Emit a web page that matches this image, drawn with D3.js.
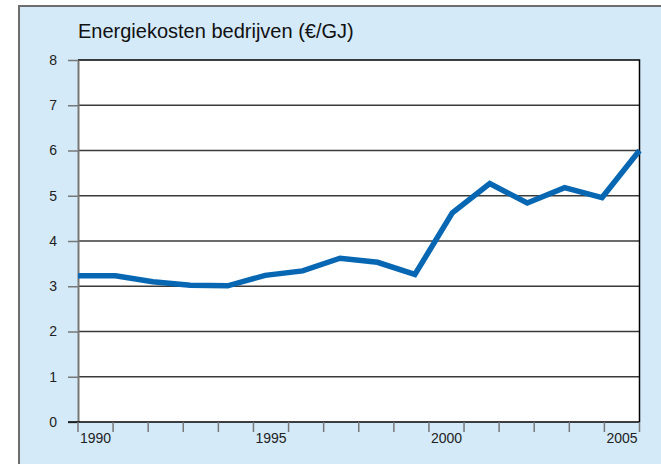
<!DOCTYPE html>
<html>
<head>
<meta charset="utf-8">
<script src="https://cdn.jsdelivr.net/npm/d3@7"></script>
<style>
  body { margin: 0; background: #fff; }
  svg { display: block; font-family: "Liberation Sans", Arial, sans-serif; }
</style>
</head>
<body>
<svg id="chart" width="661" height="464"></svg>
<script>
const title = 'Energiekosten bedrijven (€/GJ)';
const years = d3.range(1990, 2006);
const costs = [3.23, 3.23, 3.1, 3.02, 3.01, 3.24, 3.34, 3.62, 3.53, 3.26, 4.62, 5.27, 4.84, 5.18, 4.96, 6.0];
const yTicks = [0, 1, 2, 3, 4, 5, 6, 7, 8];
const xLabels = [1990, 1995, 2000, 2005];

const svg = d3.select('#chart');
const plotL = 78, plotR = 639.5, plotT = 60, plotB = 422;

// light blue panel
svg.append('rect')
  .attr('x', 19).attr('y', 6)
  .attr('width', 661).attr('height', 470)
  .attr('fill', '#d4eaf9')
  .attr('stroke', '#6d6d6d')
  .attr('stroke-width', 2);

svg.append('text')
  .attr('x', 78).attr('y', 38)
  .attr('font-size', 20)
  .attr('fill', '#111')
  .text(title);

const y = d3.scaleLinear().domain([0, 8]).range([plotB, plotT]);
const xLine = d3.scalePoint().domain(years).range([plotL, plotR]);
const xBand = d3.scaleBand().domain(years).range([plotL, plotR]);

svg.append('rect')
  .attr('x', plotL).attr('y', plotT)
  .attr('width', plotR - plotL).attr('height', plotB - plotT)
  .attr('fill', '#fff');

// gridlines
svg.append('g')
  .selectAll('line')
  .data(yTicks.filter(d => d > 0 && d < 8))
  .join('line')
  .attr('x1', plotL).attr('x2', plotR)
  .attr('y1', d => y(d)).attr('y2', d => y(d))
  .attr('stroke', '#3a3a3a')
  .attr('stroke-width', 1.5);

// top + right border
svg.append('path')
  .attr('d', `M${plotL},${y(8)}H${plotR}V${plotB}`)
  .attr('fill', 'none')
  .attr('stroke', '#000')
  .attr('stroke-width', 1.5);

// y axis
const yAxis = svg.append('g')
  .attr('transform', `translate(${plotL},0)`)
  .call(d3.axisLeft(y).tickValues(yTicks).tickSize(10).tickPadding(11).tickSizeOuter(0));
yAxis.select('.domain').attr('stroke', '#777').attr('stroke-width', 2);
yAxis.selectAll('.tick line').attr('stroke', '#777').attr('stroke-width', 1.5);
yAxis.selectAll('.tick text').attr('font-size', 14).attr('fill', '#222')
  .attr('font-family', '"Liberation Sans", Arial, sans-serif');

// x axis: ticks at band edges, labels centred in bands
const xg = svg.append('g');
xg.append('line')
  .attr('x1', plotL - 10).attr('x2', plotR)
  .attr('y1', plotB).attr('y2', plotB)
  .attr('stroke', '#000').attr('stroke-width', 1.5);
xg.selectAll('.xt')
  .data(years.concat([2006]))
  .join('line')
  .attr('class', 'xt')
  .attr('x1', d => d === 2006 ? plotR : xBand(d))
  .attr('x2', d => d === 2006 ? plotR : xBand(d))
  .attr('y1', plotB).attr('y2', plotB + 10)
  .attr('stroke', '#777').attr('stroke-width', 1.5);
xg.selectAll('text')
  .data(xLabels)
  .join('text')
  .attr('x', d => xBand(d) + xBand.bandwidth() / 2)
  .attr('y', 443)
  .attr('text-anchor', 'middle')
  .attr('font-size', 14)
  .attr('fill', '#222')
  .text(d => d);

// data line
const line = d3.line()
  .x((d, i) => xLine(years[i]))
  .y(d => y(d));
svg.append('path')
  .datum(costs)
  .attr('d', line)
  .attr('fill', 'none')
  .attr('stroke', '#0867b3')
  .attr('stroke-width', 5.5)
  .attr('stroke-linejoin', 'miter');
</script>
</body>
</html>
